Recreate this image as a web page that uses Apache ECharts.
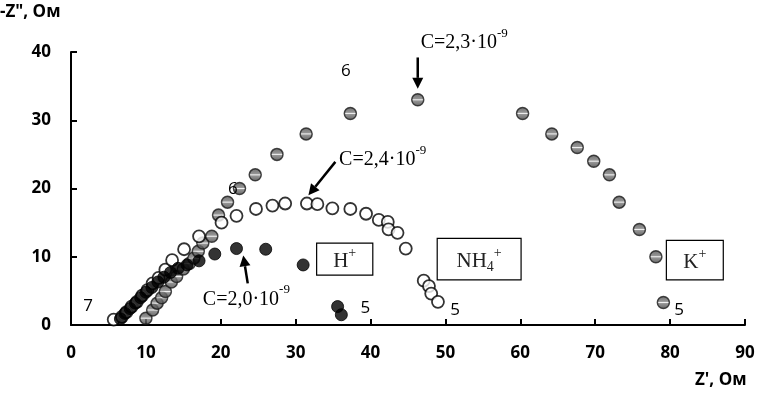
<!DOCTYPE html>
<html><head><meta charset="utf-8">
<script src="https://cdn.jsdelivr.net/npm/echarts@6/dist/echarts.min.js"></script>
<style>html,body{margin:0;padding:0;background:#fff}#c{width:758px;height:393px}</style>
</head><body><div id="c"></div>
<script>
// K+ series (grey circles)
const kX = [10.0,10.9,11.5,12.1,12.6,13.4,14.1,15.0,15.8,16.4,17.0,17.6,18.8,19.7,20.9,22.5,24.6,27.5,31.4,37.3,46.3,60.3,64.2,67.6,69.8,71.9,73.2,75.9,78.1,79.1];
const kY = [1.0,2.2,3.2,4.0,4.9,6.3,7.1,8.2,9.0,9.8,10.8,12.0,13.0,16.1,18.0,20.0,22.0,25.0,28.0,31.0,33.0,31.0,28.0,26.0,24.0,22.0,18.0,14.0,10.0,3.3];
// NH4+ series (open circles)
const nX = [5.7,6.8,7.4,8.1,8.8,9.5,10.2,10.9,11.7,12.6,13.5,15.1,17.1,20.1,22.1,24.7,26.9,28.6,31.5,32.9,34.9,37.3,39.4,41.1,42.3,42.4,43.6,44.7,47.1,47.8,48.1,49.0];
const nY = [0.8,1.2,1.9,2.7,3.4,4.3,5.1,6.1,6.9,8.1,9.5,11.1,13.0,15.0,16.0,17.0,17.5,17.8,17.8,17.7,17.1,17.0,16.3,15.4,15.1,14.0,13.5,11.2,6.5,5.7,4.6,3.4];
// H+ series (filled black circles)
const hX = [6.6,7.2,7.9,8.6,9.3,10.0,10.8,11.6,12.4,13.3,14.3,15.5,17.1,19.2,22.1,26.0,31.0,35.6,36.1];
const hY = [0.9,1.7,2.4,3.2,4.0,4.8,5.5,6.3,7.0,7.7,8.3,8.8,9.4,10.4,11.2,11.1,8.8,2.7,1.5];
const xTicks = {min:0, max:90, step:10};
const yTicks = {min:0, max:40, step:10};

const zip = (a,b)=>a.map((v,i)=>[v,b[i]]);
const chart = echarts.init(document.getElementById('c'));
const greyFill = new echarts.graphic.LinearGradient(0,0,0,1,[
  {offset:0,color:'#4a4a4a'},{offset:0.42,color:'#7a7a7a'},{offset:0.5,color:'#f0f0f0'},
  {offset:0.58,color:'#7a7a7a'},{offset:1,color:'#3e3e3e'}]);
const lblFont = {fontFamily:'"Open Sans", "DejaVu Sans", sans-serif', fontWeight:'bold', fontSize:17, color:'#000'};
chart.setOption({
  animation:false,
  grid:{left:71, right:13, top:52, bottom:68},
  xAxis:{type:'value', min:xTicks.min, max:xTicks.max, interval:xTicks.step,
    axisLine:{show:true,onZero:false,lineStyle:{color:'#000',width:2}},
    axisTick:{show:true,inside:true,length:6,lineStyle:{color:'#000',width:2}},
    splitLine:{show:false}, axisLabel:Object.assign({margin:20},lblFont)},
  yAxis:{type:'value', min:yTicks.min, max:yTicks.max, interval:yTicks.step,
    axisLine:{show:true,onZero:false,lineStyle:{color:'#000',width:2}},
    axisTick:{show:true,inside:true,length:6,lineStyle:{color:'#000',width:2}},
    splitLine:{show:false}, axisLabel:Object.assign({margin:20},lblFont)},
  series:[
    {type:'scatter', name:'K+', data:zip(kX,kY), symbolSize:12, z:3,
     itemStyle:{color:greyFill, borderColor:'#1a1a1a', borderWidth:1.5}},
    {type:'scatter', name:'NH4+', data:zip(nX,nY), symbolSize:12, z:4,
     itemStyle:{color:'#fff', borderColor:'#000', borderWidth:1.8}},
    {type:'scatter', name:'H+', data:zip(hX,hY), symbolSize:12, z:5,
     itemStyle:{color:'#000', borderColor:'#000', borderWidth:1}}
  ]
});

function P(x,y){return chart.convertToPixel({gridIndex:0},[x,y]);}
const serif = '"Liberation Serif", "Times New Roman", serif';
const sans = '"Open Sans", "DejaVu Sans", sans-serif';
function cText(x,y,main,exp){
  const p = P(x,y);
  return {type:'text', left:p[0], top:p[1]-13, z:10, style:{
    text:'{m|'+main+'}{s|'+exp+'}', rich:{
      m:{fontFamily:serif,fontSize:20,fill:'#000',lineHeight:26,verticalAlign:'bottom'},
      s:{fontFamily:serif,fontSize:13,fill:'#000',lineHeight:26,verticalAlign:'top'}}}};
}
function arrow(x1,y1,x2,y2){
  const a=P(x1,y1), b=P(x2,y2);
  const dx=b[0]-a[0], dy=b[1]-a[1], L=Math.hypot(dx,dy), ux=dx/L, uy=dy/L;
  const hl=11, hw=5.5;
  const bx=b[0]-ux*hl, by=b[1]-uy*hl;
  return [
    {type:'line', z:10, shape:{x1:a[0],y1:a[1],x2:bx,y2:by}, style:{stroke:'#000',lineWidth:2.5}},
    {type:'polygon', z:10, shape:{points:[[b[0],b[1]],[bx-uy*hw,by+ux*hw],[bx+uy*hw,by-ux*hw]]}, style:{fill:'#000'}}
  ];
}
function numLabel(x,y,t){
  const p=P(x,y);
  return {type:'text', x:p[0], y:p[1], z:10, style:{text:t, font:'17px '+sans, fill:'#000', align:'center', verticalAlign:'middle'}};
}
function box(x1,y1,x2,y2,main,sub,sup){
  const a=P(x1,y1), b=P(x2,y2);
  let txt='{m|'+main+'}'+(sub?'{b|'+sub+'}':'')+'{s|'+sup+'}';
  return [
    {type:'rect', z:9, shape:{x:a[0],y:a[1],width:b[0]-a[0],height:b[1]-a[1]}, style:{fill:'#fff',stroke:'#000',lineWidth:1.2}},
    {type:'text', z:10, x:(a[0]+b[0])/2, y:(a[1]+b[1])/2, style:{text:txt, align:'center', verticalAlign:'middle', rich:{
      m:{fontFamily:serif,fontSize:21,fill:'#222',lineHeight:26,verticalAlign:'bottom'},
      b:{fontFamily:serif,fontSize:14,fill:'#222',lineHeight:26,verticalAlign:'bottom',padding:[0,0,-2,0]},
      s:{fontFamily:serif,fontSize:14,fill:'#222',lineHeight:26,verticalAlign:'top'}}}}
  ];
}
const g = [
  {type:'text', left:0, top:4, style:{text:'-Z", Ом', font:'bold 17px '+sans, fill:'#000'}},
  {type:'text', left:695, top:372, style:{text:"Z', Ом", font:'bold 17px '+sans, fill:'#000'}},
  cText(46.7,41.8,'C=2,3·10','-9'),
  cText(35.8,24.6,'C=2,4·10','-9'),
  cText(17.6,4.2,'C=2,0·10','-9'),
  ...arrow(46.3,39.2,46.3,34.6),
  ...arrow(35.3,23.9,31.7,19.0),
  ...arrow(23.6,6.1,23.0,10.2),
  numLabel(2.3,2.7,'7'),
  numLabel(36.7,37.2,'6'),
  numLabel(21.6,19.9,'6'),
  numLabel(51.3,2.2,'5'),
  numLabel(39.3,2.5,'5'),
  numLabel(81.2,2.2,'5'),
  ...box(32.8,12.0,40.3,7.3,'H','','+'),
  ...box(48.9,12.7,60.1,6.6,'NH','4','+'),
  ...box(79.5,12.4,87.1,6.6,'K','','+')
];
chart.setOption({graphic:g});
</script></body></html>
